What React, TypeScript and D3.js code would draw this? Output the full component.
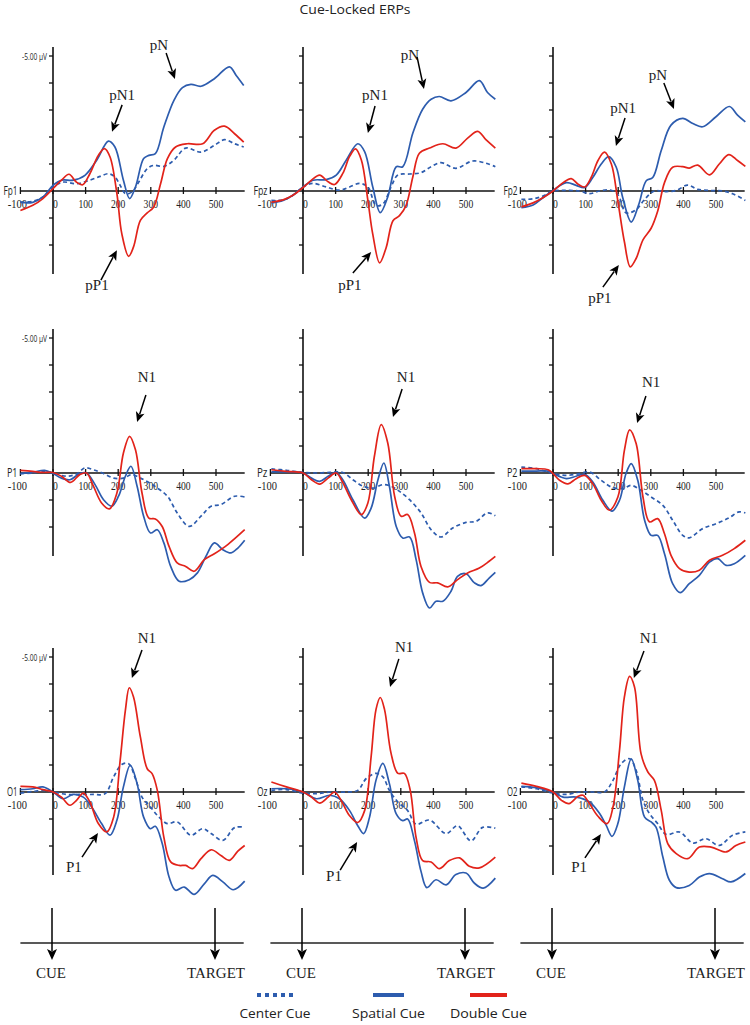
import React from "react";
import * as d3 from "d3";

type Pt = [number, number]; // [ms, µV] (negative plotted up)

// tick values
const msTicks = [-100, 0, 100, 200, 300, 400, 500];
const uvTicks = [-5, -4, -3, -2, -1, 1, 2];
const channels = ["Fp1", "Fpz", "Fp2", "P1", "Pz", "P2", "O1", "Oz", "O2"];
const seriesNames = ["Center Cue", "Spatial Cue", "Double Cue"];

// ---- frontal row ----
const fp1Center: Pt[] = [[-100,0.41],[-62,0.38],[-31,0.22],[0,-0.15],[31,-0.33],[72,-0.27],[113,-0.4],[144,-0.54],[170,-0.64],[190,-0.52],[206,-0.21],[222,0.1],[242,0.04],[263,-0.33],[289,-0.83],[309,-0.95],[340,-0.91],[371,-1.14],[407,-1.59],[454,-1.44],[495,-1.69],[526,-1.9],[557,-1.75],[585,-1.63]];
const fp1Spatial: Pt[] = [[-100,0.42],[-62,0.42],[-31,0.22],[0,-0.21],[26,-0.4],[62,-0.4],[98,-0.58],[134,-1.14],[170,-1.85],[190,-1.63],[216,-0.4],[235,0.28],[253,-0.15],[278,-1.2],[294,-1.32],[314,-1.38],[340,-2.37],[371,-3.36],[397,-3.83],[423,-3.95],[454,-3.88],[495,-4.16],[541,-4.6],[562,-4.28],[585,-3.91]];
const fp1Double: Pt[] = [[-100,0.72],[-62,0.53],[-31,0.28],[0,-0.09],[26,-0.4],[49,-0.62],[72,-0.33],[91,-0.23],[113,-0.64],[139,-1.32],[158,-1.57],[175,-1.26],[196,0.1],[211,1.58],[232,2.42],[247,2.07],[268,1.09],[289,0.81],[309,0.59],[330,-0.27],[351,-1.2],[376,-1.63],[412,-1.75],[459,-1.75],[495,-2.25],[526,-2.4],[557,-2.12],[585,-1.81]];

const fpzCenter: Pt[] = [[-97,0.35],[-61,0.33],[-31,0.16],[0,-0.15],[31,-0.28],[71,-0.15],[112,-0.03],[143,-0.15],[173,-0.28],[199,-0.15],[224,0.54],[245,0.48],[270,-0.15],[291,-0.59],[327,-0.63],[362,-0.68],[393,-0.9],[423,-1.05],[469,-0.84],[520,-1.11],[561,-1.03],[590,-0.9]];
const fpzSpatial: Pt[] = [[-97,0.44],[-61,0.35],[-31,0.16],[0,-0.15],[31,-0.4],[71,-0.42],[102,-0.59],[133,-1.15],[168,-1.75],[189,-1.46],[214,-0.15],[237,0.8],[260,0.22],[286,-0.9],[306,-0.9],[337,-2.15],[367,-3.03],[393,-3.4],[418,-3.5],[454,-3.34],[500,-3.65],[541,-4.09],[566,-3.65],[590,-3.4]];
const fpzDouble: Pt[] = [[-97,0.41],[-61,0.33],[-31,0.16],[0,-0.13],[26,-0.4],[51,-0.59],[77,-0.34],[97,-0.24],[122,-0.65],[143,-1.28],[161,-1.56],[179,-1.15],[199,0.35],[214,1.6],[235,2.66],[255,2.1],[276,1.1],[296,0.91],[316,0.54],[337,-0.53],[357,-1.4],[388,-1.59],[429,-1.75],[469,-1.59],[505,-1.96],[536,-2.21],[561,-1.9],[590,-1.59]];

const fp2Center: Pt[] = [[-97,0.31],[-61,0.29],[-31,0.19],[0,0],[41,-0.02],[82,0],[112,0.1],[143,0],[173,-0.04],[199,0.13],[224,0.81],[255,0.69],[281,0.31],[311,0],[347,0.02],[378,-0.02],[413,-0.22],[444,-0.06],[480,-0.02],[520,0],[551,0.1],[590,0.35]];
const fp2Spatial: Pt[] = [[-97,0.62],[-61,0.52],[-31,0.25],[0,-0.02],[41,-0.31],[71,-0.21],[97,-0.13],[122,-0.5],[148,-1.0],[171,-1.27],[194,-0.88],[214,0.25],[240,1.15],[263,0.5],[286,-0.38],[306,-0.5],[332,-1.5],[362,-2.44],[398,-2.69],[429,-2.5],[459,-2.38],[500,-2.75],[541,-3.13],[566,-2.81],[590,-2.56]];
const fp2Double: Pt[] = [[-97,0.59],[-61,0.44],[-31,0.25],[0,0],[31,-0.31],[56,-0.46],[77,-0.25],[97,-0.15],[117,-0.5],[138,-1.13],[158,-1.44],[179,-1.0],[199,0.38],[219,1.88],[237,2.81],[255,2.5],[276,1.81],[301,1.38],[321,0.75],[342,-0.31],[367,-0.88],[398,-0.9],[418,-0.85],[444,-0.96],[480,-0.6],[510,-1.0],[539,-1.35],[566,-1.13],[590,-0.91]];

// ---- parietal row ----
const p1Center: Pt[] = [[-100,0.02],[-62,0],[-26,-0.06],[0,0],[41,0.12],[72,0.04],[98,-0.19],[124,-0.12],[155,0.02],[186,0.19],[216,0.19],[242,0.06],[268,0.19],[294,0.35],[320,0.56],[351,0.86],[381,1.48],[418,1.98],[454,1.6],[485,1.23],[515,1.17],[557,0.86],[588,0.89]];
const p1Spatial: Pt[] = [[-100,0.02],[-62,-0.02],[-26,-0.1],[0,0.02],[26,0.19],[52,0.25],[82,0.02],[103,0],[129,0.43],[155,0.99],[180,1.23],[201,0.86],[222,0.12],[239,-0.25],[258,0.49],[278,1.6],[299,2.22],[320,2.1],[340,2.59],[361,3.46],[387,4.01],[418,3.95],[443,3.7],[469,3.09],[495,2.59],[521,2.84],[546,2.96],[567,2.78],[588,2.49]];
const p1Double: Pt[] = [[-100,-0.1],[-62,-0.06],[-31,-0.02],[0,-0.02],[26,0.12],[54,0.35],[82,0.06],[103,0],[124,0.49],[149,1.11],[173,1.33],[196,0.74],[216,-0.74],[235,-1.36],[253,-0.86],[273,0.74],[294,1.67],[314,1.7],[335,1.98],[356,2.72],[381,3.33],[407,3.46],[433,3.64],[464,3.21],[495,2.99],[536,2.65],[588,2.1]];

const pzCenter: Pt[] = [[-97,-0.15],[-51,-0.1],[0,-0.02],[41,0],[82,-0.02],[122,-0.02],[153,0.25],[184,0.49],[214,0.56],[245,0.43],[270,0.49],[296,0.68],[327,0.99],[362,1.48],[393,2.1],[423,2.37],[459,2.04],[500,1.83],[531,1.79],[566,1.48],[590,1.58]];
const pzSpatial: Pt[] = [[-97,-0.04],[-51,-0.04],[0,0],[26,0.19],[51,0.31],[77,0.12],[102,-0.02],[122,0.25],[153,0.99],[189,1.67],[209,1.3],[230,0.25],[248,-0.37],[265,0.49],[286,1.98],[306,2.41],[327,2.37],[347,3.21],[367,4.44],[388,5.0],[408,4.75],[429,4.75],[454,4.38],[474,3.83],[500,3.73],[526,4.07],[546,4.17],[571,3.89],[590,3.68]];
const pzDouble: Pt[] = [[-97,-0.12],[-51,-0.06],[0,0],[26,0.25],[51,0.41],[77,0.19],[102,0],[122,0.35],[148,0.99],[179,1.54],[199,1.11],[219,-0.62],[240,-1.79],[260,-1.11],[281,0.86],[301,1.6],[321,1.54],[342,2.22],[362,3.46],[388,4.05],[413,4.07],[444,4.22],[474,3.95],[505,3.7],[541,3.52],[571,3.27],[590,3.09]];

const p2Center: Pt[] = [[-97,-0.22],[-51,-0.16],[0,0.02],[41,0.09],[82,0.02],[112,-0.04],[148,0.27],[179,0.52],[214,0.58],[240,0.46],[270,0.64],[301,0.89],[337,1.2],[367,1.75],[398,2.31],[418,2.4],[459,2.06],[500,1.88],[541,1.65],[571,1.44],[590,1.48]];
const p2Spatial: Pt[] = [[-97,-0.07],[-51,-0.07],[-15,-0.07],[0,0.02],[41,0.21],[71,0.12],[97,0.05],[122,0.33],[153,1.01],[181,1.41],[204,1.01],[224,0.02],[240,-0.35],[260,0.27],[281,1.75],[301,2.31],[321,2.31],[342,2.99],[367,4.1],[390,4.43],[418,4.1],[449,3.79],[480,3.3],[505,3.17],[531,3.42],[556,3.36],[590,3.05]];
const p2Double: Pt[] = [[-97,-0.16],[-51,-0.16],[-15,-0.12],[0,0.02],[20,0.27],[46,0.4],[71,0.21],[97,0.09],[122,0.4],[148,1.01],[173,1.38],[199,0.89],[219,-0.84],[235,-1.6],[255,-1.09],[276,0.89],[296,1.81],[321,1.69],[342,2.25],[362,3.05],[388,3.54],[418,3.67],[449,3.6],[480,3.23],[520,3.05],[556,2.8],[590,2.49]];

// ---- occipital row ----
const o1Center: Pt[] = [[-100,0.04],[-62,-0.02],[-31,-0.06],[0,0],[41,0.09],[82,0.09],[124,0.09],[160,0.06],[186,-0.56],[211,-1.02],[232,-1.05],[253,-0.49],[273,0.19],[299,0.56],[325,0.93],[351,1.17],[381,1.11],[423,1.6],[459,1.36],[485,1.54],[521,1.79],[557,1.32],[588,1.3]];
const o1Spatial: Pt[] = [[-100,-0.09],[-62,-0.12],[-31,-0.19],[0,0],[31,0.25],[62,0.09],[93,0.19],[119,0.56],[149,1.17],[175,1.6],[196,1.05],[216,-0.19],[237,-0.99],[258,-0.31],[278,0.93],[299,1.36],[314,1.27],[335,1.91],[356,3.15],[376,3.64],[402,3.52],[433,3.79],[464,3.4],[490,3.09],[521,3.33],[553,3.62],[588,3.3]];
const o1Double: Pt[] = [[-100,-0.21],[-62,-0.19],[-31,-0.09],[0,0],[26,0.19],[52,0.49],[72,0.31],[93,0.04],[113,0.37],[139,1.17],[165,1.48],[186,0.93],[206,-1.17],[222,-3.02],[234,-3.86],[247,-3.52],[268,-2.04],[289,-0.86],[304,-0.68],[320,-0.06],[340,1.67],[361,2.59],[387,2.72],[407,2.72],[428,2.84],[454,2.47],[485,2.14],[515,2.35],[541,2.53],[567,2.19],[588,1.98]];

const ozCenter: Pt[] = [[-97,-0.06],[-51,-0.09],[0,0.04],[41,0.06],[82,0],[133,0],[168,-0.06],[194,-0.5],[224,-0.69],[245,-0.56],[265,-0.06],[291,0.37],[321,0.69],[347,1.19],[388,1.04],[439,1.54],[474,1.25],[515,1.81],[551,1.31],[590,1.34]];
const ozSpatial: Pt[] = [[-97,-0.12],[-51,-0.12],[0,0],[41,0.25],[82,0.12],[112,0.25],[143,0.69],[168,1.25],[186,1.54],[204,0.94],[224,-0.44],[245,-1.06],[265,-0.31],[286,0.81],[306,1.06],[321,1.0],[342,1.81],[362,2.94],[380,3.54],[408,3.25],[439,3.44],[469,3.06],[500,3.0],[526,3.38],[553,3.56],[590,3.19]];
const ozDouble: Pt[] = [[-97,-0.37],[-51,-0.19],[0,0],[26,0.19],[51,0.41],[77,0.19],[97,0],[117,0.31],[143,0.88],[168,1.13],[189,0.69],[209,-1.31],[224,-3.06],[237,-3.5],[250,-3.06],[270,-1.44],[291,-0.69],[311,-0.69],[329,-0.06],[347,1.69],[367,2.54],[393,2.59],[418,2.84],[449,2.54],[480,2.44],[510,2.75],[541,2.81],[590,2.41]];

const o2Center: Pt[] = [[-97,-0.19],[-51,-0.12],[0,0.04],[41,0.09],[82,0],[122,0],[158,0],[184,-0.43],[209,-1.05],[235,-1.23],[255,-0.8],[276,0.31],[296,0.8],[321,1.17],[347,1.57],[388,1.48],[429,1.89],[469,1.73],[510,1.98],[551,1.6],[590,1.48]];
const o2Spatial: Pt[] = [[-97,-0.21],[-51,-0.16],[0,0],[31,0.19],[71,0.19],[112,0.37],[143,0.8],[163,1.23],[181,1.64],[199,1.17],[219,-0.19],[240,-1.23],[260,-0.43],[281,0.93],[301,1.11],[316,1.3],[337,2.41],[357,3.27],[378,3.54],[418,3.46],[449,3.15],[480,3.02],[520,3.21],[546,3.33],[590,3.02]];
const o2Double: Pt[] = [[-97,-0.33],[-51,-0.21],[0,0],[26,0.31],[49,0.43],[77,0.16],[92,0.12],[112,0.43],[138,0.9],[166,1.17],[184,0.56],[204,-1.54],[219,-3.52],[235,-4.28],[250,-3.89],[270,-1.42],[291,-0.74],[311,-0.43],[332,0.68],[352,1.91],[378,2.28],[413,2.47],[449,2.04],[485,2.04],[531,2.22],[561,1.98],[590,1.85]];

const panelSeries: Pt[][][] = [
  [fp1Center, fp1Spatial, fp1Double],
  [fpzCenter, fpzSpatial, fpzDouble],
  [fp2Center, fp2Spatial, fp2Double],
  [p1Center, p1Spatial, p1Double],
  [pzCenter, pzSpatial, pzDouble],
  [p2Center, p2Spatial, p2Double],
  [o1Center, o1Spatial, o1Double],
  [ozCenter, ozSpatial, ozDouble],
  [o2Center, o2Spatial, o2Double],
];

// component labels: panel, text, text anchor, arrow start, arrow tip (ms, µV)
type Note = { p: number; label: string; at: Pt; from: Pt; to: Pt };
const notes: Note[] = [
  { p: 0, label: "pN", at: [325, -5.22], from: [347, -5.11], to: [374, -4.15] },
  { p: 0, label: "pN1", at: [212, -3.37], from: [212, -3.19], to: [181, -2.19] },
  { p: 0, label: "pP1", at: [135, 3.67], from: [147, 3.3], to: [196, 2.19] },
  { p: 1, label: "pN", at: [328, -4.85], from: [350, -4.96], to: [371, -3.78] },
  { p: 1, label: "pN1", at: [221, -3.37], from: [221, -3.15], to: [199, -2.15] },
  { p: 1, label: "pP1", at: [144, 3.67], from: [153, 3.04], to: [209, 2.26] },
  { p: 2, label: "pN", at: [322, -4.11], from: [340, -4.0], to: [371, -3.04] },
  { p: 2, label: "pN1", at: [215, -2.89], from: [221, -2.7], to: [193, -1.67] },
  { p: 2, label: "pP1", at: [144, 4.15], from: [153, 3.56], to: [202, 2.74] },
  { p: 3, label: "N1", at: [288, -3.37], from: [285, -2.89], to: [258, -1.89] },
  { p: 4, label: "N1", at: [316, -3.37], from: [304, -3.11], to: [276, -2.07] },
  { p: 5, label: "N1", at: [301, -3.19], from: [285, -2.85], to: [258, -1.85] },
  { p: 6, label: "N1", at: [288, -5.52], from: [273, -5.26], to: [242, -4.22] },
  { p: 6, label: "P1", at: [64, 2.96], from: [89, 2.41], to: [138, 1.52] },
  { p: 7, label: "N1", at: [310, -5.19], from: [294, -4.93], to: [267, -3.89] },
  { p: 7, label: "P1", at: [95, 3.3], from: [114, 2.89], to: [166, 1.85] },
  { p: 8, label: "N1", at: [294, -5.52], from: [279, -5.22], to: [248, -4.22] },
  { p: 8, label: "P1", at: [80, 2.96], from: [98, 2.44], to: [147, 1.56] },
];

const cueMs = 0;
const targetMs = 500;

// layout
const W = 750;
const H = 1025;
const colZero = [53, 303, 553];
const rowZero = [191, 473, 792];
const PX_PER_100MS = 32.6;
const PX_PER_UV = 27;
const X_MIN = -100;
const X_MAX = 588;
const UV_TOP = -5.33;
const UV_BOTTOM = 3.07;
const BLUE = "#2d5cae";
const RED = "#e2231a";
const colors = [BLUE, BLUE, RED];
const SERIF = "'Liberation Serif', 'Times New Roman', serif";
const SANS = "'Open Sans', 'Liberation Sans', sans-serif";

function scalesFor(col: number, row: number) {
  const x = d3.scaleLinear().domain([0, 100]).range([colZero[col], colZero[col] + PX_PER_100MS]);
  const y = d3.scaleLinear().domain([0, 1]).range([rowZero[row], rowZero[row] + PX_PER_UV]);
  return { x, y };
}

function Arrow({ x1, y1, x2, y2, head = 10, half = 4.5, sw = 1.5 }: any) {
  const dx = x2 - x1;
  const dy = y2 - y1;
  const len = Math.hypot(dx, dy);
  const ux = dx / len;
  const uy = dy / len;
  const bx = x2 - ux * head;
  const by = y2 - uy * head;
  return (
    <g>
      <line x1={x1} y1={y1} x2={bx + ux * 2} y2={by + uy * 2} stroke="#000" strokeWidth={sw} />
      <polygon
        points={`${x2},${y2} ${bx - uy * half},${by + ux * half} ${bx + ux * 2.5},${by + uy * 2.5} ${bx + uy * half},${by - ux * half}`}
        fill="#000"
      />
    </g>
  );
}

function Panel({ idx }: { idx: number }) {
  const col = idx % 3;
  const row = Math.floor(idx / 3);
  const { x, y } = scalesFor(col, row);
  const line = d3
    .line<Pt>()
    .x((d) => x(d[0]))
    .y((d) => y(d[1]))
    .curve(d3.curveCatmullRom.alpha(0.5));
  const y0 = y(0);
  const x0 = x(0);
  return (
    <g>
      {/* x axis */}
      <line x1={x(X_MIN)} x2={x(X_MAX)} y1={y0} y2={y0} stroke="#111" strokeWidth={1.6} />
      {msTicks.map((t) => (
        <g key={t}>
          <line x1={x(t)} x2={x(t)} y1={y0 - 4} y2={y0 + 3} stroke="#111" strokeWidth={1.3} />
          <text
            x={x(t) + (t < 0 ? -3 : t === 0 ? 2.5 : 0)}
            y={y0 + 17}
            textAnchor="middle"
            fontFamily={SERIF}
            fontSize={11.5}
            textLength={String(t).length * 4.8}
            lengthAdjust="spacingAndGlyphs"
            fill="#222"
          >
            {t}
          </text>
        </g>
      ))}
      {/* y axis */}
      <line x1={x0} x2={x0} y1={y(UV_TOP)} y2={y(UV_BOTTOM)} stroke="#111" strokeWidth={1.6} />
      {uvTicks.map((t) => (
        <line key={t} x1={x0 - 4} x2={x0} y1={y(t)} y2={y(t)} stroke="#111" strokeWidth={1.3} />
      ))}
      {col === 0 && (
        <text
          x={x0 - 6}
          y={y(-5) + 3.5}
          textAnchor="end"
          fontFamily={SANS}
          fontSize={9}
          textLength={25}
          lengthAdjust="spacingAndGlyphs"
          fill="#222"
        >
          -5.00 µV
        </text>
      )}
      <text
        x={x(X_MIN) - 3}
        y={y0 + 4}
        textAnchor="end"
        fontFamily={SANS}
        fontSize={12}
        textLength={channels[idx].length === 3 ? 14 : 10.5}
        lengthAdjust="spacingAndGlyphs"
        fill="#222"
      >
        {channels[idx]}
      </text>
      {/* waveforms */}
      {panelSeries[idx].map((s, i) => (
        <path
          key={i}
          d={line(s) || ""}
          fill="none"
          stroke={colors[i]}
          strokeWidth={1.7}
          strokeDasharray={i === 0 ? "4 3" : undefined}
        />
      ))}
      {/* component labels */}
      {notes
        .filter((n) => n.p === idx)
        .map((n, i) => (
          <g key={i}>
            <text
              x={x(n.at[0])}
              y={y(n.at[1])}
              textAnchor="middle"
              fontFamily={SERIF}
              fontSize={15}
              fill="#222"
            >
              {n.label}
            </text>
            <Arrow x1={x(n.from[0])} y1={y(n.from[1])} x2={x(n.to[0])} y2={y(n.to[1])} />
          </g>
        ))}
    </g>
  );
}

function Timeline({ col }: { col: number }) {
  const { x } = scalesFor(col, 0);
  const ly = 943;
  return (
    <g>
      <line x1={x(X_MIN)} x2={x(X_MAX) - 1} y1={ly} y2={ly} stroke="#222" strokeWidth={1.5} />
      {[cueMs, targetMs].map((t) => (
        <Arrow key={t} x1={x(t) - 1} y1={908} x2={x(t) - 1} y2={960} head={11} half={5} sw={1.5} />
      ))}
      <text x={x(cueMs) - 2} y={978} textAnchor="middle" fontFamily={SERIF} fontSize={15} fill="#222">
        CUE
      </text>
      <text x={x(targetMs)} y={978} textAnchor="middle" fontFamily={SERIF} fontSize={15} fill="#222">
        TARGET
      </text>
    </g>
  );
}

const legendX = [[257, 293], [373, 404], [470, 507]];

export default function App() {
  return (
    <svg
      width={W}
      height={H}
      style={{ position: "absolute", left: 0, top: 0, background: "#fff" }}
    >
      <rect width={W} height={H} fill="#fff" />
      <text
        x={355}
        y={14}
        textAnchor="middle"
        fontFamily={SANS}
        fontSize={13.5}
        textLength={111}
        lengthAdjust="spacingAndGlyphs"
        fill="#222"
      >
        Cue-Locked ERPs
      </text>
      {channels.map((_, i) => (
        <Panel key={i} idx={i} />
      ))}
      {[0, 1, 2].map((c) => (
        <Timeline key={c} col={c} />
      ))}
      {seriesNames.map((name, i) => {
        const [a, b] = legendX[i];
        return (
          <g key={name}>
            <line
              x1={a}
              x2={b}
              y1={995}
              y2={995}
              stroke={colors[i]}
              strokeWidth={4}
              strokeDasharray={i === 0 ? "4 4" : undefined}
            />
            <text
              x={(a + b) / 2}
              y={1018}
              textAnchor="middle"
              fontFamily={SANS}
              fontSize={13}
              textLength={name === "Spatial Cue" ? 73 : name === "Center Cue" ? 71 : 77}
              lengthAdjust="spacingAndGlyphs"
              fill="#222"
            >
              {name}
            </text>
          </g>
        );
      })}
    </svg>
  );
}
